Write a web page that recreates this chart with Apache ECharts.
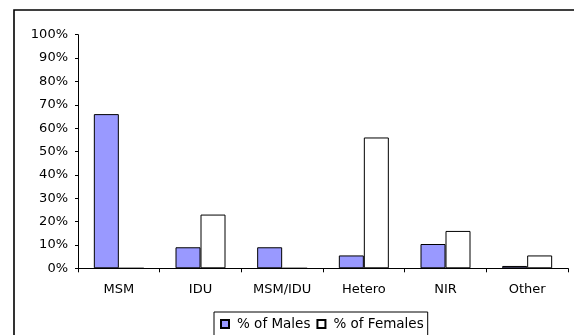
<!DOCTYPE html>
<html>
<head>
<meta charset="utf-8">
<script src="https://cdn.jsdelivr.net/npm/echarts@6/dist/echarts.min.js"></script>
<style>
  html, body { margin: 0; padding: 0; background: #fff; }
  #chart { width: 574px; height: 335px; }
</style>
</head>
<body>
<div id="chart"></div>
<script>
// Exposure categories and share of cases by sex (percent)
const categories = ['MSM', 'IDU', 'MSM/IDU', 'Hetero', 'NIR', 'Other'];
const malesPct = [66, 9, 9, 5.5, 10.4, 1];
const femalesPct = [0, 23, 0, 56, 16, 5.5];
const yTicks = { min: 0, max: 100, interval: 10 };

const FONT = 'DejaVu Sans';
const chart = echarts.init(document.getElementById('chart'), null, { renderer: 'canvas' });

chart.setOption({
  animation: false,
  backgroundColor: '#fff',
  textStyle: { fontFamily: FONT, color: '#000' },
  graphic: [{
    type: 'rect',
    shape: { x: 14, y: 10, width: 640, height: 400 },
    style: { fill: 'none', stroke: '#000', lineWidth: 1.6 },
    silent: true,
    z: 0
  }],
  grid: { left: 78, right: 6, top: 34.7, bottom: 66.7 },
  legend: {
    left: 214,
    top: 312,
    padding: [5, 4, 5, 6],
    borderColor: '#000',
    borderWidth: 1,
    itemWidth: 8,
    itemHeight: 8,
    itemGap: 6,
    icon: 'rect',
    textStyle: { fontFamily: FONT, fontSize: 13.5, color: '#000', padding: [0, 0, 0, 3] },
    data: ['% of Males', '% of Females']
  },
  xAxis: {
    type: 'category',
    data: categories,
    boundaryGap: true,
    axisLine: { lineStyle: { color: '#000', width: 1 } },
    axisTick: { show: true, length: 4, lineStyle: { color: '#000' } },
    axisLabel: { fontFamily: FONT, fontSize: 13, color: '#000', margin: 15 },
    splitLine: { show: false }
  },
  yAxis: {
    type: 'value',
    min: yTicks.min,
    max: yTicks.max,
    interval: yTicks.interval,
    axisLine: { show: true, lineStyle: { color: '#000', width: 1 } },
    axisTick: { show: true, length: 3, lineStyle: { color: '#000' } },
    axisLabel: { fontFamily: FONT, fontSize: 13, color: '#000', margin: 10, formatter: '{value}%' },
    splitLine: { show: false }
  },
  series: [
    {
      name: '% of Males',
      type: 'bar',
      data: malesPct,
      barWidth: 25,
      barGap: '0%',
      itemStyle: { color: '#9999FF', borderColor: '#000', borderWidth: 1 }
    },
    {
      name: '% of Females',
      type: 'bar',
      data: femalesPct,
      barWidth: 25,
      barGap: '0%',
      itemStyle: { color: '#FFFFFF', borderColor: '#000', borderWidth: 1 }
    }
  ]
});
</script>
</body>
</html>
